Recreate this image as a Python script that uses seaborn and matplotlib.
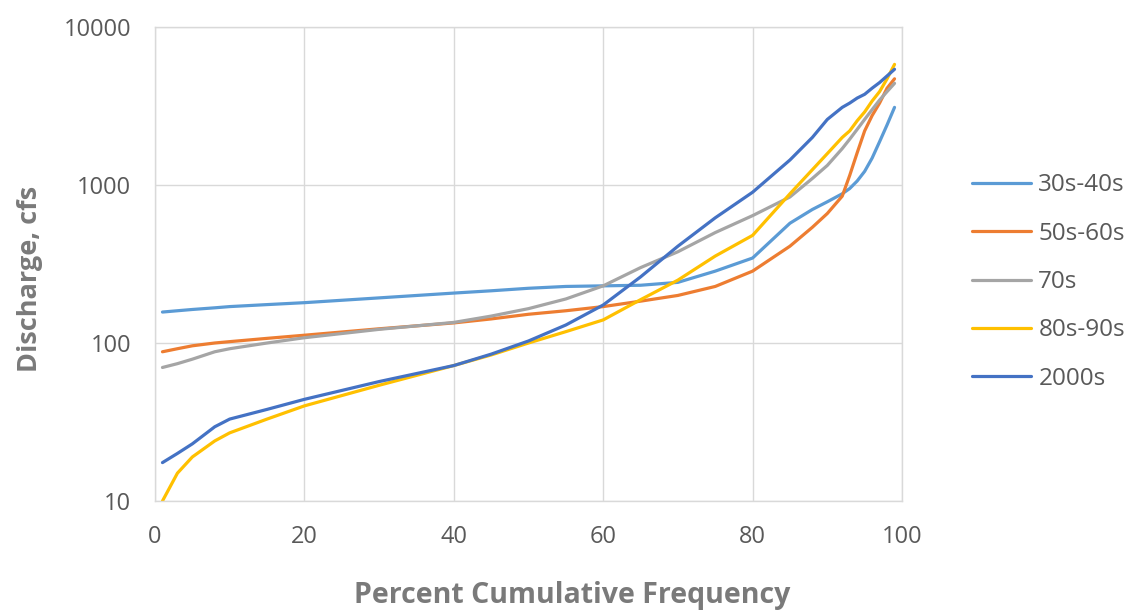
import pandas as pd
import matplotlib
matplotlib.use("Agg")
import matplotlib.pyplot as plt
import seaborn as sns

# ---------------- data ----------------
pct = [1, 3, 5, 8, 10, 15, 20, 30, 40, 45, 50, 55, 60, 65, 70, 75,
       80, 85, 88, 90, 92, 93, 94, 95, 96, 97, 98, 99]

q_30s40s = [157, 160, 163, 167, 170, 175, 180, 193, 207, 214, 222, 228, 230, 232, 242, 285,
            345, 573, 700, 783, 880, 950, 1060, 1220, 1480, 1880, 2400, 3100]
q_50s60s = [88, 92, 96, 100, 102, 107, 112, 123, 134, 142, 152, 160, 170, 184, 200, 228,
            285, 410, 540, 660, 850, 1150, 1600, 2200, 2750, 3300, 4100, 4700]
q_70s = [70, 74, 79, 88, 92, 100, 108, 122, 135, 148, 165, 190, 230, 300, 378, 500,
         640, 840, 1100, 1330, 1700, 1950, 2250, 2600, 3000, 3450, 3900, 4400]
q_80s90s = [10, 15, 19, 24, 27, 33, 40, 54, 72, 84, 100, 118, 140, 188, 250, 355,
            480, 880, 1250, 1580, 2000, 2200, 2550, 2900, 3400, 3900, 4700, 5800]
q_2000s = [17.5, 20, 23, 29.5, 33, 38, 44, 57, 72, 85, 103, 130, 174, 262, 410, 620,
           900, 1440, 2000, 2600, 3100, 3300, 3550, 3750, 4100, 4450, 4900, 5400]

periods = ['30s-40s', '50s-60s', '70s', '80s-90s', '2000s']
colors = ['#5B9BD5', '#ED7D31', '#A5A5A5', '#FFC000', '#4472C4']

x_ticks = [0, 20, 40, 60, 80, 100]
y_ticks = [10, 100, 1000, 10000]
y_tick_labels = ['10', '100', '1000', '10000']

series = [q_30s40s, q_50s60s, q_70s, q_80s90s, q_2000s]
df = pd.concat(
    [pd.DataFrame({'Percent': pct, 'Discharge': vals, 'Period': name})
     for name, vals in zip(periods, series)],
    ignore_index=True)

# ---------------- plot ----------------
sns.set_theme(style="whitegrid")
plt.rcParams['font.family'] = ['Open Sans', 'DejaVu Sans']

fig = plt.figure(figsize=(11.36, 6.14), dpi=100)
ax = fig.add_axes([155 / 1136, 113 / 614, 747 / 1136, 474 / 614])

sns.lineplot(data=df, x='Percent', y='Discharge', hue='Period',
             hue_order=periods, palette=colors, estimator=None,
             linewidth=2.3, ax=ax)

ax.set_yscale('log')
ax.set_xlim(0, 100)
ax.set_ylim(10, 10000)
ax.set_xticks(x_ticks)
ax.set_xticklabels([str(t) for t in x_ticks])
ax.set_yticks(y_ticks)
ax.set_yticklabels(y_tick_labels)
ax.minorticks_off()

grid_col = '#D9D9D9'
ax.grid(True, color=grid_col, linewidth=1.0)
for sp in ax.spines.values():
    sp.set_color(grid_col)
    sp.set_linewidth(1.0)

ax.tick_params(axis='y', length=0, pad=17, labelsize=17, labelcolor='#595959')
ax.tick_params(axis='x', length=0, pad=17, labelsize=17, labelcolor='#595959')

ax.set_xlabel('Percent Cumulative Frequency', fontsize=20.5, fontweight='bold',
              color='#7A7A7A', va='center')
ax.xaxis.set_label_coords(0.558, -0.20)
ax.set_ylabel('Discharge, cfs', fontsize=19.5, fontweight='bold',
              color='#7A7A7A', va='center')
ax.yaxis.set_label_coords(-0.167, 0.468)

leg = ax.legend(loc='center left', bbox_to_anchor=(1.094, 0.462), frameon=False,
                fontsize=17.5, handlelength=2.4, handletextpad=0.32,
                labelspacing=1.0, borderpad=0, borderaxespad=0)
for t in leg.get_texts():
    t.set_color('#595959')
for h in leg.get_lines():
    h.set_linewidth(2.3)

fig.savefig('out.png', dpi=100)
